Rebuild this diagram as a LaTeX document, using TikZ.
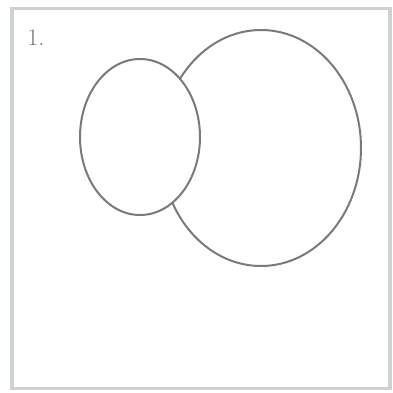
\documentclass[tikz,border=0pt]{standalone}
\usepackage{xcolor}
\usepackage{tikz}
\usetikzlibrary{positioning, shapes.geometric}
\definecolor{framegray}{HTML}{CDD3CD}
\definecolor{setline}{HTML}{7A7A7A}
\definecolor{labelgray}{HTML}{6E766E}
\tikzset{
  panel/.style={draw=framegray, line width=0.8mm, fill=white, inner sep=0pt},
  setshape/.style={ellipse, draw=setline, line width=0.5mm, fill=white, inner sep=0pt},
  tag/.style={font=\fontsize{17}{19}\selectfont, text=labelgray, inner sep=0pt},
}

\begin{document}
\begin{tikzpicture}[x=0.25mm, y=-0.25mm]
  \useasboundingbox (0,0) rectangle (393,393);
  \node[panel, minimum width=94.5mm, minimum height=95mm] (frame) at (201,198.5) {};
  \node[tag, anchor=north west] (num) at (27,29) {1.};
  \node[setshape, minimum width=50mm, minimum height=59mm] (big) at (261,148) {};
  \node[setshape, minimum width=30mm, minimum height=39mm] (small) at (140,137) {};
\end{tikzpicture}
\end{document}
